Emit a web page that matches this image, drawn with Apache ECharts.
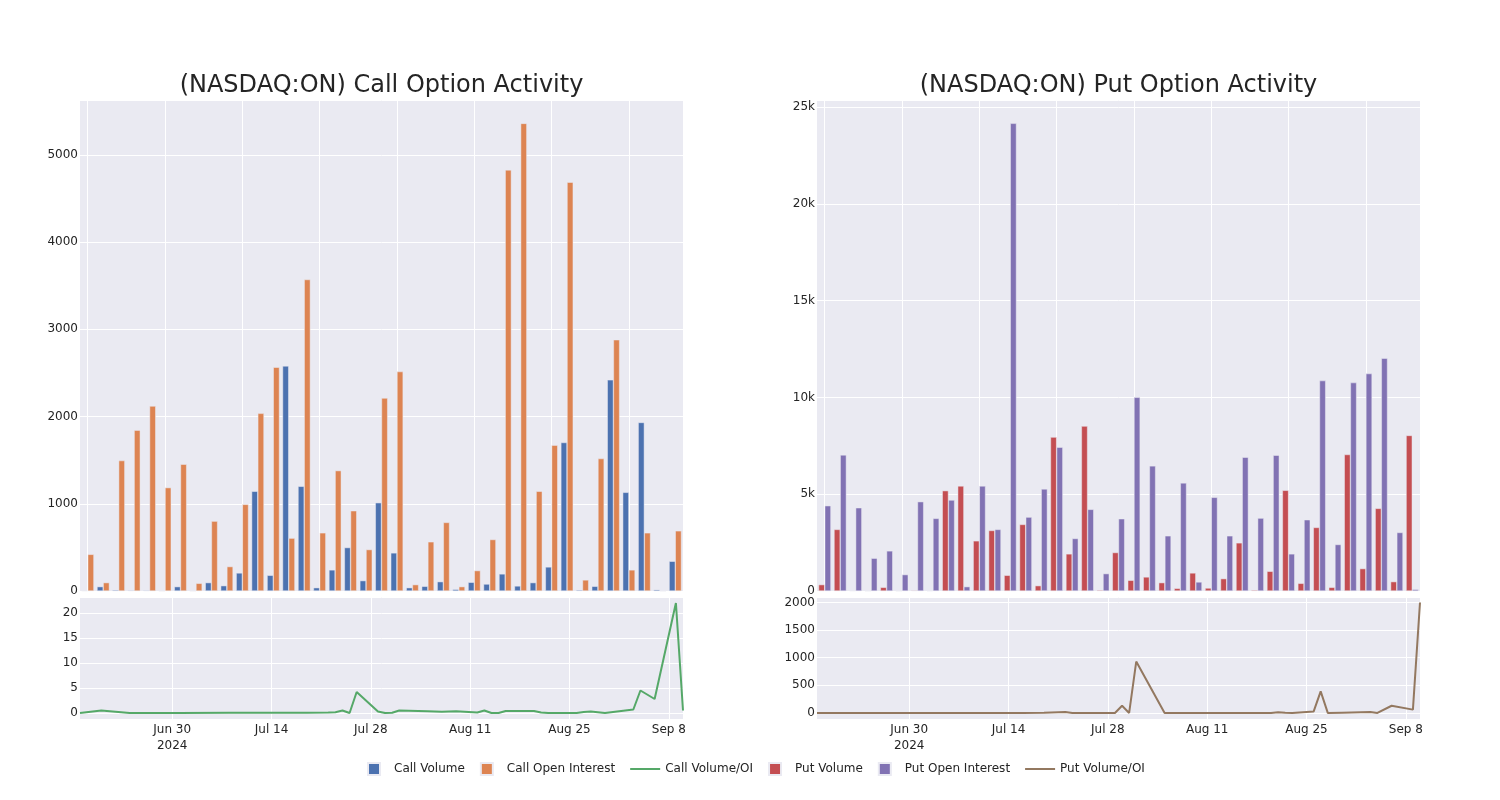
<!DOCTYPE html>
<html>
<head>
<meta charset="utf-8">
<script src="https://cdn.jsdelivr.net/npm/echarts@6/dist/echarts.min.js"></script>
<style>html,body{margin:0;padding:0;background:#fff}#chart{width:1500px;height:800px}</style>
</head>
<body>
<div id="chart"></div>
<script>
// ---- data ----
const dates = ['2024-06-17','2024-06-20','2024-06-24','2024-06-27','2024-07-01','2024-07-08','2024-07-12','2024-07-16','2024-07-19','2024-07-22',
  '2024-07-23','2024-07-24','2024-07-25','2024-07-26','2024-07-29','2024-07-30','2024-07-31','2024-08-01','2024-08-05','2024-08-07',
  '2024-08-09','2024-08-12','2024-08-13','2024-08-14','2024-08-15','2024-08-16','2024-08-20','2024-08-21','2024-08-22','2024-08-23',
  '2024-08-26','2024-08-27','2024-08-28','2024-08-30','2024-09-03','2024-09-04','2024-09-06','2024-09-09','2024-09-10'];
const callVolume = [5,50,12,8,8,0,50,0,96,61,207,1143,180,2580,1200,38,242,498,119,1012,437,38,54,107,19,100,80,196,58,96,276,1702,12,54,2420,1131,1932,15,341];
const callOpenInterest = [420,96,1495,1844,2120,1185,1453,88,801,280,993,2036,2565,606,3570,667,1380,920,475,2212,2515,73,564,786,50,234,590,4827,5360,1143,1672,4686,127,1518,2880,242,667,0,690];
const callRatio = [0,0.5,0,0,0.02,0.03,0.04,0.05,0.06,0.1,0.15,0.5,0,4.2,0.3,0,0.05,0.5,0.35,0.25,0.35,0.1,0.5,0,0,0.4,0.4,0.1,0,0,0,0.2,0.3,0,0.7,4.5,2.8,22,0.5];
const putVolume = [330,3180,20,0,190,0,35,15,5183,5425,2592,3127,812,3438,276,7948,1918,8518,50,1987,553,726,432,138,933,155,639,2488,52,1019,5200,397,3283,190,7049,1158,4267,484,8035];
const putOpenInterest = [4405,7030,4300,1693,2073,847,4613,3750,4700,225,5425,3180,24154,3818,5270,7430,2712,4216,898,3732,10003,6462,2851,5581,467,4838,2851,6911,3766,7014,1918,3680,10867,2401,10764,11230,12025,3023,86];
const putRatio = [0,0,0,0,0,0,0,0,5,18,0,0,0,0,0,130,0,930,0,0,0,0,0,0,0,0,0,12,5,0,25,390,0,5,15,0,130,60,2000];
const tickDates = ['2024-06-30','2024-07-14','2024-07-28','2024-08-11','2024-08-25','2024-09-08'];
const tickYear = '2024';

// ---- helpers ----
const MONTHS = ['Jan','Feb','Mar','Apr','May','Jun','Jul','Aug','Sep','Oct','Nov','Dec'];
function parseD(s){const p=s.split('-').map(Number);return Date.UTC(p[0],p[1]-1,p[2]);}
function fmtD(t){const d=new Date(t);return d.getUTCFullYear()+'-'+String(d.getUTCMonth()+1).padStart(2,'0')+'-'+String(d.getUTCDate()).padStart(2,'0');}
const days=[];
for(let t=parseD(dates[0]);t<=parseD(dates[dates.length-1]);t+=86400000){days.push(fmtD(t));}
function toDaily(vals){const m={};dates.forEach((d,i)=>m[d]=vals[i]);return days.map(d=>m[d]===undefined?null:m[d]);}
const tickSet=new Set(tickDates);
function labelFmt(v){const p=v.split('-').map(Number);let s=MONTHS[p[1]-1]+' '+p[2];if(v===tickDates[0])s+='\n'+tickYear;return s;}

const FONT='DejaVu Sans';
const TXT='#242424';
const BG='#EAEAF2';
const C={cv:'#4C72B0',coi:'#DD8452',cr:'#55A868',pv:'#C44E52',poi:'#8172B3',pr:'#937860'};

const grids=[
  {left:80,top:100,width:603,height:491},
  {left:80,top:597,width:603,height:122},
  {left:817,top:100,width:603,height:491},
  {left:817,top:597,width:603,height:122}
].map(g=>Object.assign({show:true,backgroundColor:BG,borderWidth:0},g));

function barX(gi){return {type:'category',gridIndex:gi,data:dates,boundaryGap:true,
  axisLine:{show:false},axisTick:{show:false},axisLabel:{show:false},
  splitLine:{show:true,interval:4,alignWithLabel:true,lineStyle:{color:'#fff',width:1}}};}
function lineX(gi){return {type:'category',gridIndex:gi,data:days,boundaryGap:false,
  axisLine:{show:false},axisTick:{show:false},
  axisLabel:{interval:(i,v)=>tickSet.has(v),formatter:labelFmt,fontSize:12,color:TXT,fontFamily:FONT,margin:3,lineHeight:16},
  splitLine:{show:true,interval:(i,v)=>tickSet.has(v),lineStyle:{color:'#fff',width:1}}};}
function yAx(gi,o){return Object.assign({type:'value',gridIndex:gi,axisLine:{show:false},axisTick:{show:false},
  splitLine:{show:true,lineStyle:{color:'#fff',width:1}}},o);}

const lab=(f)=>({fontSize:12,color:TXT,fontFamily:FONT,margin:2,showMaxLabel:false,showMinLabel:true,formatter:f});

const sq='path://M0,0H10V10H0Z';
const ln='path://M0,0H30V2H0Z';

const barStyle=(c)=>({color:c,borderColor:BG,borderWidth:0.5});
const titleStyle={fontSize:24,fontWeight:'normal',color:TXT,fontFamily:FONT};

const option={
  animation:false,
  backgroundColor:'#fff',
  title:[
    {text:'(NASDAQ:ON) Call Option Activity',left:381.5,top:74,padding:0,textAlign:'center',textStyle:titleStyle},
    {text:'(NASDAQ:ON) Put Option Activity',left:1118.5,top:74,padding:0,textAlign:'center',textStyle:titleStyle}
  ],
  legend:{top:757,left:362,itemWidth:30,itemHeight:12,itemGap:15,
    textStyle:{fontSize:12,color:TXT,fontFamily:FONT},
    data:[{name:'Call Volume',icon:sq},{name:'Call Open Interest',icon:sq},{name:'Call Volume/OI',icon:ln},
          {name:'Put Volume',icon:sq},{name:'Put Open Interest',icon:sq},{name:'Put Volume/OI',icon:ln}]},
  grid:grids,
  xAxis:[barX(0),lineX(1),barX(2),lineX(3)],
  yAxis:[
    yAx(0,{min:0,max:5628,interval:1000,axisLabel:lab(v=>String(v))}),
    yAx(1,{min:-1.2,max:23.2,splitNumber:5,axisLabel:Object.assign(lab(v=>String(v)),{showMinLabel:false})}),
    yAx(2,{min:0,max:25360,interval:5000,axisLabel:lab(v=>v===0?'0':(v/1000)+'k')}),
    yAx(3,{min:-110,max:2100,splitNumber:5,axisLabel:Object.assign(lab(v=>String(v)),{showMinLabel:false})})
  ],
  series:[
    {name:'Call Volume',type:'bar',xAxisIndex:0,yAxisIndex:0,data:callVolume,itemStyle:barStyle(C.cv),barGap:'0%',barCategoryGap:'20%'},
    {name:'Call Open Interest',type:'bar',xAxisIndex:0,yAxisIndex:0,data:callOpenInterest,itemStyle:barStyle(C.coi),barGap:'0%',barCategoryGap:'20%'},
    {name:'Call Volume/OI',type:'line',xAxisIndex:1,yAxisIndex:1,data:toDaily(callRatio),connectNulls:true,showSymbol:false,symbol:'none',lineStyle:{color:C.cr,width:2},itemStyle:{color:C.cr}},
    {name:'Put Volume',type:'bar',xAxisIndex:2,yAxisIndex:2,data:putVolume,itemStyle:barStyle(C.pv),barGap:'0%',barCategoryGap:'20%'},
    {name:'Put Open Interest',type:'bar',xAxisIndex:2,yAxisIndex:2,data:putOpenInterest,itemStyle:barStyle(C.poi),barGap:'0%',barCategoryGap:'20%'},
    {name:'Put Volume/OI',type:'line',xAxisIndex:3,yAxisIndex:3,data:toDaily(putRatio),connectNulls:true,showSymbol:false,symbol:'none',lineStyle:{color:C.pr,width:2},itemStyle:{color:C.pr}}
  ]
};
const chart=echarts.init(document.getElementById('chart'),null,{renderer:'canvas'});
chart.setOption(option);
</script>
</body>
</html>
